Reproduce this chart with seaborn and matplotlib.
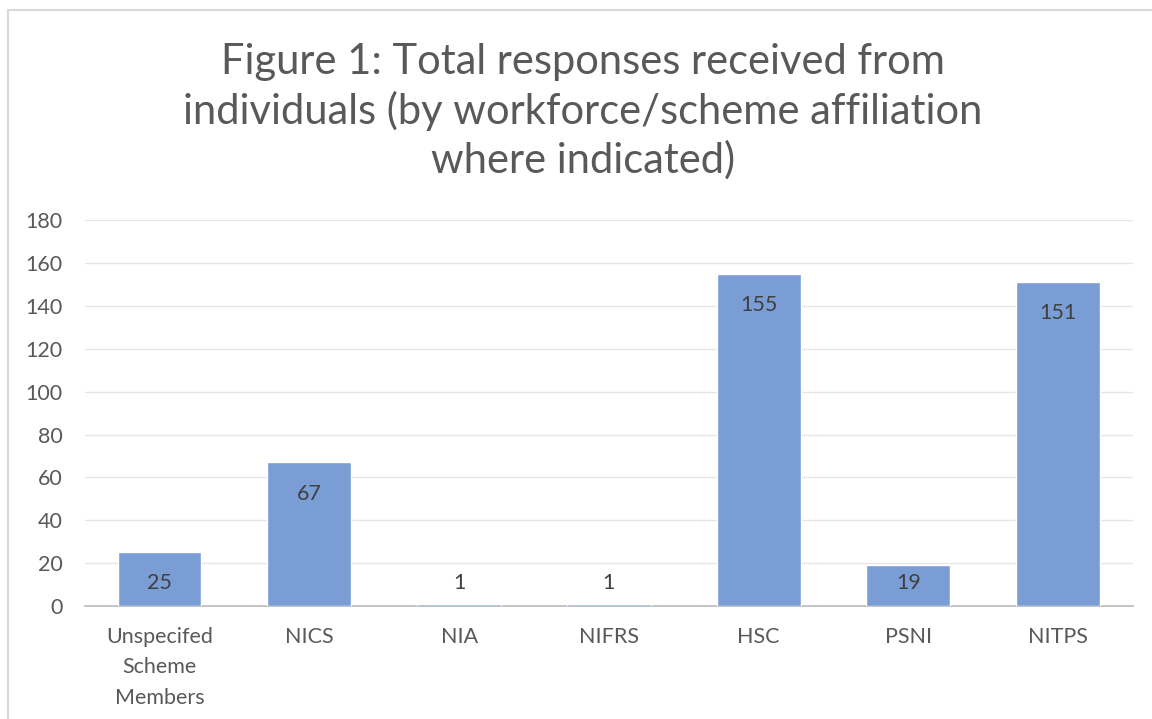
import matplotlib
matplotlib.use("Agg")
import matplotlib.pyplot as plt
import seaborn as sns
import pandas as pd
from matplotlib.patches import Rectangle

# data
categories = ["Unspecifed\nScheme\nMembers", "NICS", "NIA", "NIFRS", "HSC", "PSNI", "NITPS"]
responses = [25, 67, 1, 1, 155, 19, 151]
title = "Figure 1: Total responses received from\nindividuals (by workforce/scheme affiliation\nwhere indicated)"

df = pd.DataFrame({"category": categories, "responses": responses})

sns.set_style("white")
plt.rcParams["font.family"] = ["Lato", "DejaVu Sans"]

fig = plt.figure(figsize=(11.52, 7.19), dpi=100)
ax = fig.add_axes([0.0735, 0.157, 0.910, 0.537])

sns.barplot(data=df, x="category", y="responses", color="#7A9DD6", saturation=1,
            width=0.56, ax=ax, zorder=3)

ax.set_ylim(0, 180)
ax.set_yticks(range(0, 181, 20))
ax.set_xlim(-0.5, len(categories) - 0.5)
ax.yaxis.grid(True, color="#E6E6E6", linewidth=1, zorder=0)
ax.set_xlabel("")
ax.set_ylabel("")
for s in ["top", "right", "left"]:
    ax.spines[s].set_visible(False)
ax.spines["bottom"].set_color("#BFBFBF")
ax.spines["bottom"].set_linewidth(1.3)
ax.tick_params(axis="both", length=0, labelsize=15.5, labelcolor="#595959")
ax.tick_params(axis="y", pad=16)
ax.tick_params(axis="x", pad=15)
for lbl in ax.get_xticklabels():
    lbl.set_linespacing(1.65)

# value labels inside the top of each bar
for i, v in enumerate(responses):
    ax.text(i, max(v - 14.5, 11), str(v), ha="center", va="center",
            fontsize=15.5, color="#404040", zorder=4)

fig.text(0.506, 0.845, title, ha="center", va="center", fontsize=30,
         color="#595959", linespacing=1.3)

# light frame around the chart area
fig.patches.append(Rectangle((8 / 1152, -0.01), 1.02, (719 - 10) / 719 + 0.01,
                             transform=fig.transFigure, fill=False,
                             edgecolor="#D9D9D9", linewidth=1.5))

fig.savefig("out.png", dpi=100)
